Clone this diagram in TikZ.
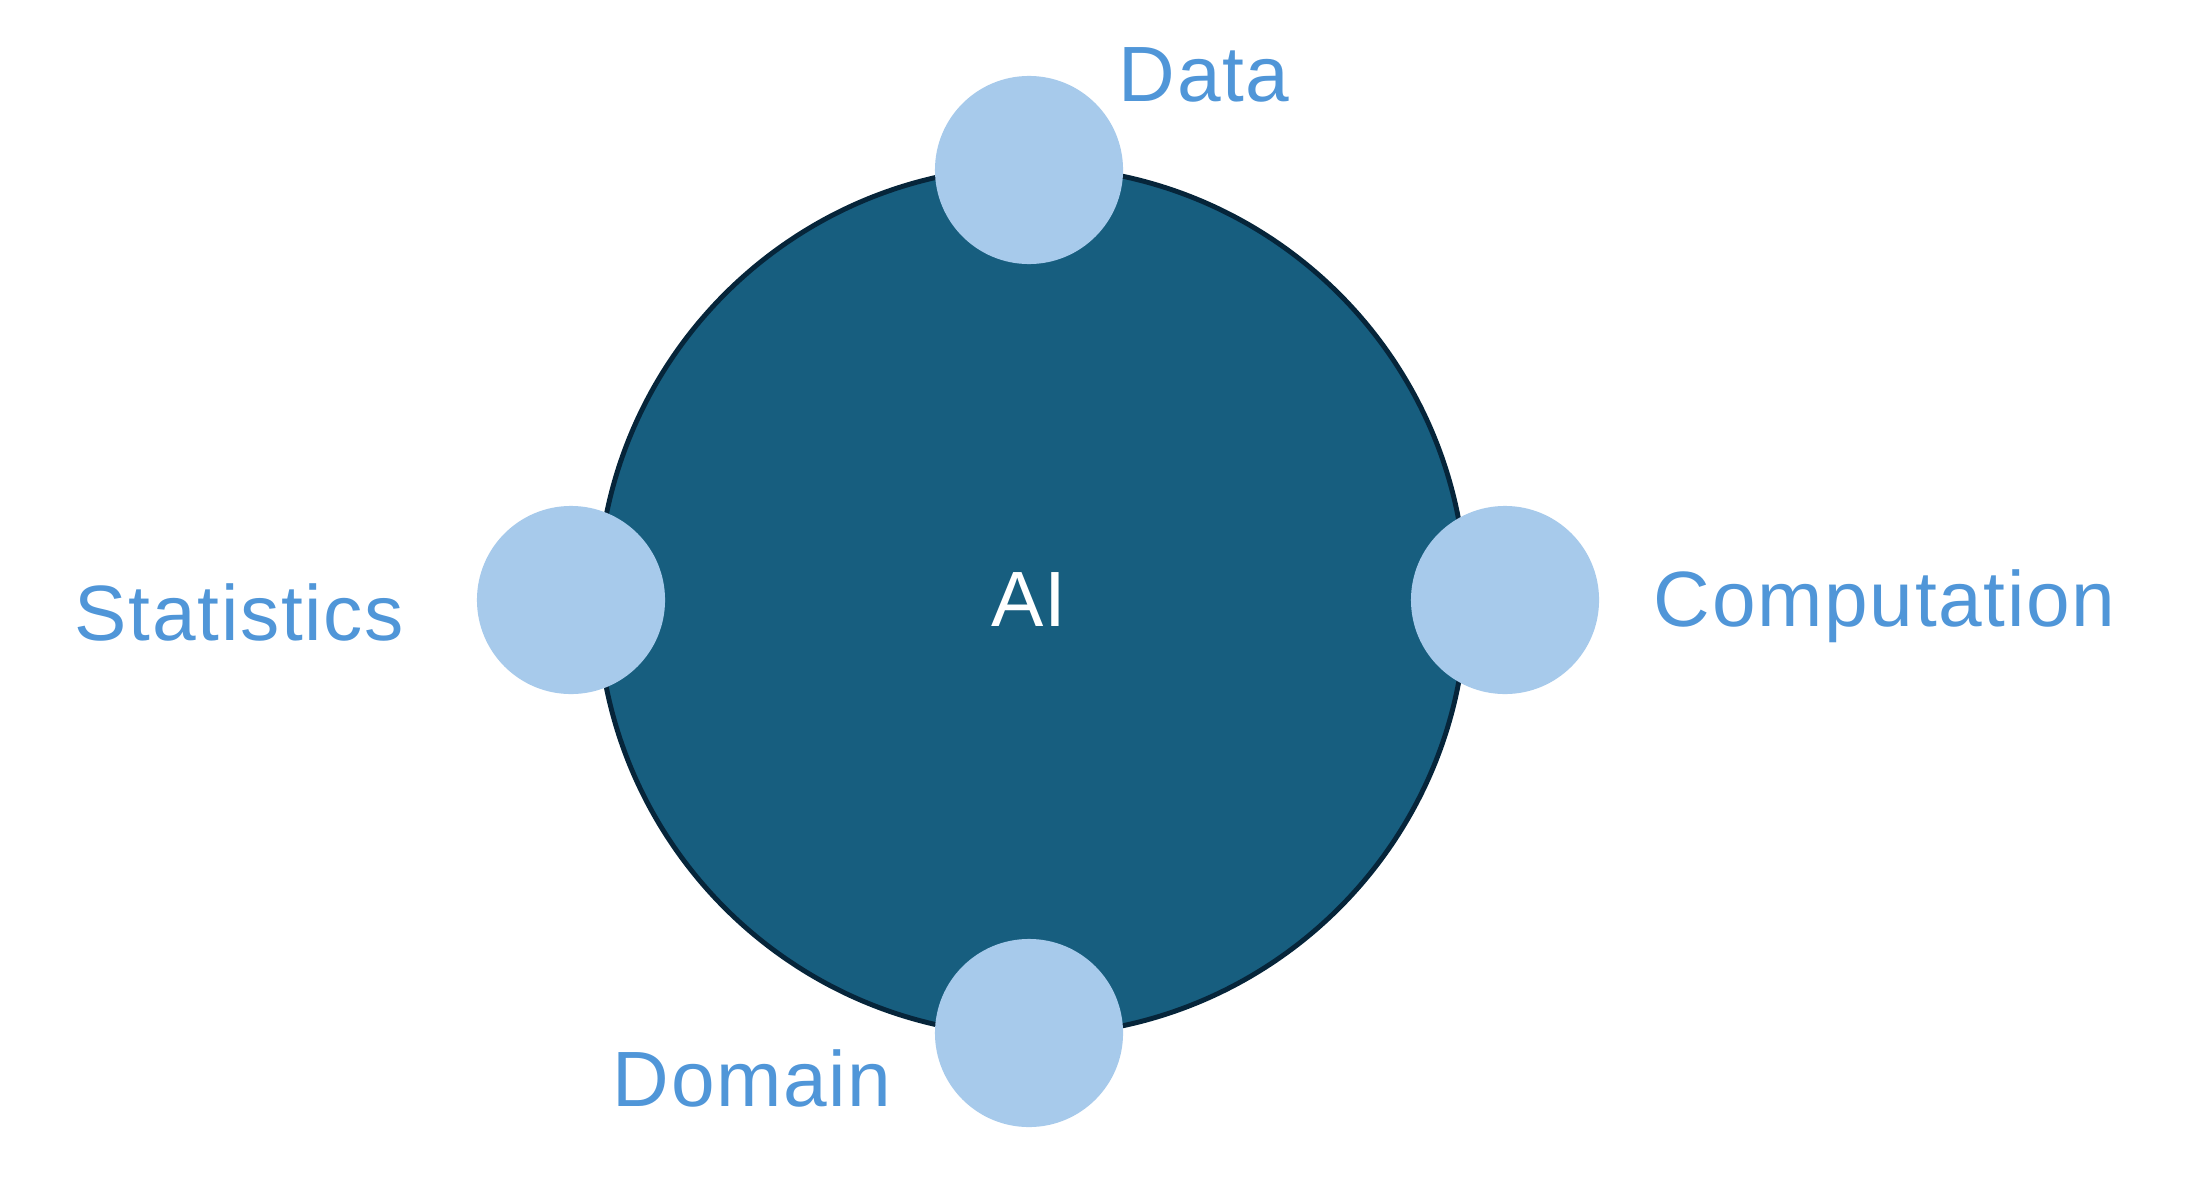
\documentclass[tikz,border=0pt]{standalone}
\usepackage{fontspec}
\setmainfont{Liberation Sans}
\newfontfamily\labelfont[LetterSpace=2.2]{Liberation Sans}
\definecolor{aifill}{rgb}{0.090196, 0.368627, 0.498039}
\definecolor{ailine}{rgb}{0.023529, 0.145098, 0.227451}
\definecolor{petalfill}{rgb}{0.654902, 0.792157, 0.921569}
\definecolor{labelcolor}{rgb}{0.313725, 0.588235, 0.847059}
\tikzset{
  core/.style={circle,fill=aifill,draw=ailine,line width=1.4pt,minimum size=8.68cm,inner sep=0pt},
  petal/.style={circle,fill=petalfill,minimum size=1.88cm,inner sep=0pt},
  petallabel/.style={anchor=base west,inner sep=0pt,text=labelcolor,font=\labelfont\fontsize{22.3}{26}\selectfont}
}
\begin{document}
\begin{tikzpicture}[x=0.01cm,y=-0.01cm]
\useasboundingbox (0,0) rectangle (2204,1182);
% centre
\node[core] (ai) at (1032,601) {};
\node[anchor=base,inner sep=0pt,text=white,font=\fontsize{22.3}{26}\selectfont] (ailabel) at (1029,626) {AI};
% petals
\node[petal] (data) at (1029,170) {};
\node[petal] (domain) at (1029,1033) {};
\node[petal] (statistics) at (571,600) {};
\node[petal] (computation) at (1505,600) {};
% labels
\node[petallabel] (datalabel) at (1118,102) {Data};
\node[petallabel] (domainlabel) at (612,1106) {Domain};
\node[petallabel] (statisticslabel) at (74,640) {Statistics};
\node[petallabel] (computationlabel) at (1653,626) {Computation};
\end{tikzpicture}
\end{document}
